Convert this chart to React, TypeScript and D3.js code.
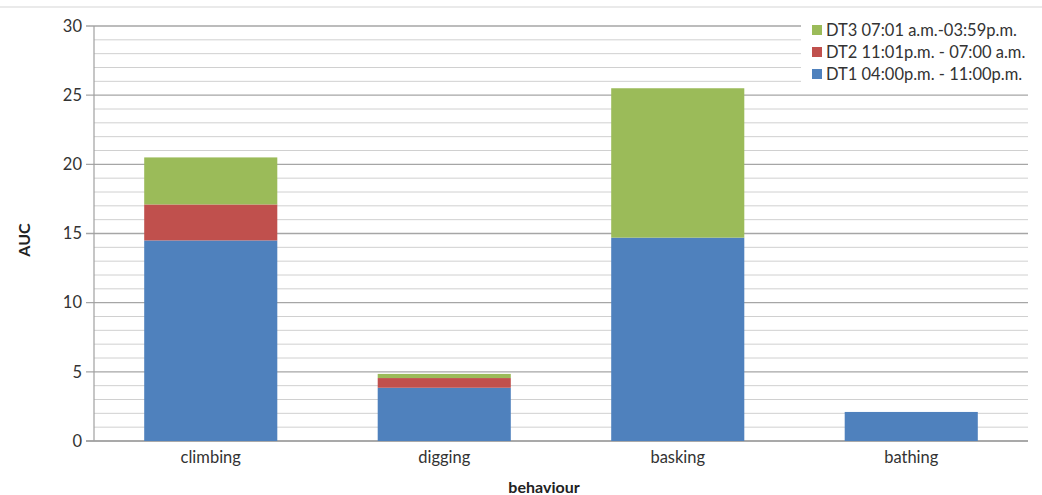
import React from "react";
import * as d3 from "d3";

const categories = ["climbing", "digging", "basking", "bathing"];
const seriesNames = ["DT1 04:00p.m. - 11:00p.m.", "DT2 11:01p.m. - 07:00 a.m.", "DT3 07:01 a.m.-03:59p.m."];
const dt1 = [14.5, 3.85, 14.7, 2.1];
const dt2 = [2.6, 0.7, 0, 0];
const dt3 = [3.4, 0.3, 10.8, 0];
const colors = ["#4F81BD", "#C0504D", "#9BBB59"];
const yTicks = [0, 5, 10, 15, 20, 25, 30];

const W = 1042, H = 495;
const left = 94, right = 1028, top = 26, bottom = 441;

export default function App() {
  const x = d3.scaleBand<string>().domain(categories).range([left, right]).paddingInner(0.43).paddingOuter(0.215);
  const y = d3.scaleLinear().domain([0, 30]).range([bottom, top]);
  const rows = categories.map((c, i) => ({ cat: c, dt1: dt1[i], dt2: dt2[i], dt3: dt3[i] }));
  const stack = d3.stack<any>().keys(["dt1", "dt2", "dt3"])(rows);
  const minor = d3.range(0, 31, 1);
  const font = "Lato, 'Open Sans', sans-serif";
  const legendOrder = [2, 1, 0];
  return (
    <svg width={W} height={H} style={{ position: "absolute", left: 0, top: 0, background: "#fff" }} fontFamily={font}>
      <rect width={W} height={H} fill="#fff" />
      <line x1={0} x2={W} y1={7} y2={7} stroke="#e3e3e3" strokeWidth={1.5} />
      {minor.map((v) => (
        <line key={v} x1={v % 5 === 0 ? left - 8 : left} x2={right} y1={y(v)} y2={y(v)}
          stroke={v === 0 ? "#8c8c8c" : v % 5 === 0 ? "#a6a6a6" : "#d0d0d0"} strokeWidth={v % 5 === 0 ? 1.3 : 1} />
      ))}
      <line x1={left} x2={left} y1={top} y2={bottom} stroke="#a0a0a0" strokeWidth={1.2} />
      {yTicks.map((v) => (
        <text key={v} x={left - 12} y={y(v)} dy="0.35em" textAnchor="end" fontSize={16.5} fill="#333">{v}</text>
      ))}
      {stack.map((s, si) => (
        <g key={si} fill={colors[si]}>
          {s.map((d, i) => d[1] - d[0] > 0 ? (
            <rect key={i} x={x(categories[i])!} width={x.bandwidth()} y={y(d[1])} height={y(d[0]) - y(d[1])} />
          ) : null)}
        </g>
      ))}
      {categories.map((c) => (
        <text key={c} x={x(c)! + x.bandwidth() / 2} y={bottom + 16} dy="0.35em" textAnchor="middle" fontSize={16.5} fill="#333">{c}</text>
      ))}
      <text x={544} y={487} dy="0.35em" textAnchor="middle" fontSize={16} fontWeight="bold" fill="#222">behaviour</text>
      <text transform={`translate(24,240) rotate(-90)`} dy="0.35em" textAnchor="middle" fontSize={16} fontWeight="bold" fill="#222">AUC</text>
      <rect x={801} y={14} width={228} height={78} fill="#fff" />
      {legendOrder.map((si, j) => (
        <g key={si} transform={`translate(812,${30 + j * 22})`}>
          <rect x={0} y={-5} width={10} height={10} fill={colors[si]} />
          <text x={14} y={0} dy="0.35em" fontSize={16.5} fill="#333">{seriesNames[si]}</text>
        </g>
      ))}
    </svg>
  );
}
